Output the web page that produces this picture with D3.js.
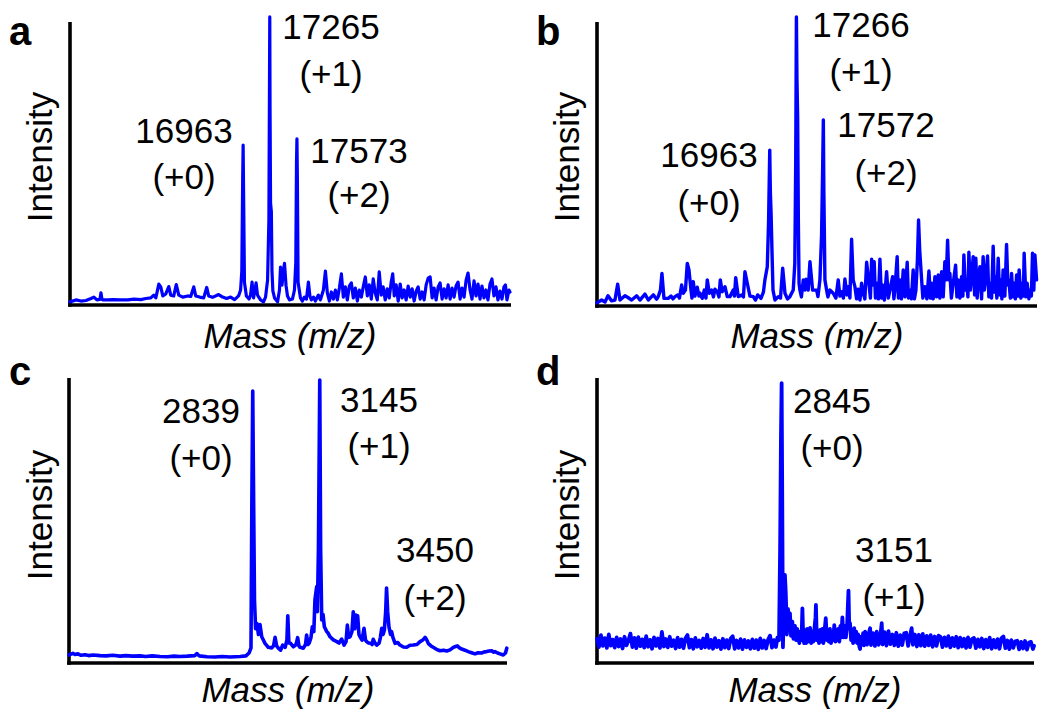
<!DOCTYPE html>
<html><head><meta charset="utf-8">
<script src="https://cdn.jsdelivr.net/npm/d3@7"></script>
<style>
body{margin:0;background:#fff}
text{font-family:"Liberation Sans",Arial,Helvetica,sans-serif;fill:#000}
</style></head>
<body><svg id="chart" width="1050" height="720"></svg>
<script>
// ---------------- DATA ----------------
const panelLetters = ["a", "b", "c", "d"];
const xAxisTitle = "Mass (m/z)";
const yAxisTitle = "Intensity";
const massRangeAB = [15000, 20000];
const massRangeCD = [2000, 4000];
const intensityRange = [0, 100];

const peakNumbersA = ["16963", "17265", "17573"];
const peakChargesA = ["(+0)", "(+1)", "(+2)"];
const peakNumbersB = ["16963", "17266", "17572"];
const peakChargesB = ["(+0)", "(+1)", "(+2)"];
const peakNumbersC = ["2839", "3145", "3450"];
const peakChargesC = ["(+0)", "(+1)", "(+2)"];
const peakNumbersD = ["2845", "3151"];
const peakChargesD = ["(+0)", "(+1)"];

// [mass, relative intensity]
const spectrumA = [[15000,1.1],[15068,1.8],[15124,1.4],[15181,1.6],[15238,2.3],[15271,2.8],[15305,1.8],[15340,2.0],[15351,4.3],[15362,2.0],[15373,1.8],[15430,1.8],[15486,1.9],[15577,1.8],[15656,1.8],[15724,2.1],[15803,1.9],[15860,2.3],[15916,2.5],[15950,3.5],[15973,2.5],[16007,7.4],[16029,6.4],[16052,3.2],[16086,3.9],[16120,6.5],[16142,3.5],[16176,3.2],[16205,7.2],[16233,3.5],[16278,2.8],[16335,3.2],[16369,3.0],[16403,6.4],[16425,3.2],[16470,2.8],[16516,2.5],[16550,6.2],[16572,3.2],[16617,2.7],[16685,3.7],[16730,2.8],[16776,2.3],[16821,2.8],[16866,1.9],[16911,3.2],[16934,5.3],[16948,12],[16958,45],[16963,56.5],[16968,40],[16978,8],[17000,3.2],[17030,2.1],[17047,3.5],[17064,8.1],[17081,2.5],[17110,7.8],[17126,3.5],[17160,1.8],[17194,1.1],[17217,2.8],[17240,8.8],[17255,30],[17262,80],[17265,101.8],[17268,70],[17274,36],[17283,33],[17290,12],[17300,5],[17319,2.5],[17353,1.1],[17375,5.3],[17387,13.4],[17404,7],[17420,12.4],[17432,14.7],[17449,7],[17466,3.2],[17488,1.8],[17522,2.1],[17545,5.3],[17560,15],[17568,50],[17573,58.7],[17578,45],[17586,8],[17613,2.5],[17635,1.4],[17658,2.8],[17681,2.1],[17703,8.1],[17720,3.2],[17737,1.8],[17760,2.8],[17782,1.4],[17816,3.5],[17839,1.8],[17873,5.3],[17896,12.0],[17918,4.2],[17941,1.4],[17963,4.6],[17986,2.1],[18009,5.3],[18031,1.8],[18054,6.0],[18077,11.0],[18099,2.8],[18122,6.4],[18144,1.8],[18167,6.7],[18190,7.8],[18212,2.5],[18235,6.0],[18258,1.4],[18280,5.3],[18303,2.8],[18325,6.4],[18348,9.9],[18371,3.2],[18393,7.1],[18416,2.1],[18438,9.2],[18461,4.2],[18484,1.8],[18506,11.7],[18529,3.5],[18551,6.4],[18574,1.8],[18597,5.7],[18619,2.5],[18642,8.1],[18659,11.0],[18676,3.2],[18698,7.1],[18721,1.4],[18744,7.4],[18766,2.5],[18789,5.3],[18811,1.8],[18834,6.7],[18857,2.8],[18879,5.7],[18902,1.4],[18925,4.9],[18947,6.4],[18970,2.1],[18993,4.6],[19015,1.8],[19038,7.1],[19061,9.5],[19083,9.9],[19106,2.5],[19128,6.0],[19151,1.8],[19174,6.4],[19196,7.8],[19219,2.1],[19242,5.7],[19264,2.5],[19287,7.1],[19310,2.1],[19332,6.0],[19355,2.8],[19377,6.7],[19400,8.1],[19423,2.1],[19445,6.0],[19468,2.8],[19491,8.8],[19513,11.3],[19536,5.3],[19558,2.1],[19581,8.5],[19604,3.2],[19626,7.4],[19649,2.1],[19671,6.7],[19694,2.5],[19716,5.3],[19739,1.8],[19762,7.4],[19784,9.2],[19807,3.2],[19830,6.4],[19852,1.8],[19875,4.9],[19898,2.1],[19920,6.4],[19937,7.1],[19954,1.8],[19977,5.3],[19988,4.6]];

const spectrumB = [[15000,1.1],[15053,2.1],[15091,1.4],[15125,3.6],[15167,1.8],[15204,2.1],[15235,7.7],[15261,2.1],[15318,3.6],[15356,2.9],[15394,2.1],[15451,3.6],[15488,2.1],[15545,4.2],[15583,2.1],[15640,3.9],[15678,2.4],[15696,3.3],[15721,5.6],[15738,11.5],[15761,2.7],[15810,2.7],[15841,3.5],[15863,2.5],[15886,3.3],[15917,3.9],[15937,2.8],[15962,7.4],[15980,4.5],[16005,5.6],[16026,15.0],[16045,12.7],[16068,5.6],[16079,2.8],[16094,8.6],[16113,3.5],[16139,6.6],[16159,3.5],[16170,4.5],[16196,2.7],[16219,5.6],[16238,2.8],[16253,9.2],[16276,4.5],[16303,5.6],[16323,3.2],[16340,5.9],[16367,5.0],[16386,3.2],[16401,9.2],[16423,5.0],[16454,6.8],[16480,3.3],[16511,3.3],[16548,5.6],[16562,3.5],[16576,10.0],[16605,3.3],[16644,3.9],[16664,3.2],[16681,12.1],[16712,7.4],[16738,3.5],[16776,3.3],[16801,2.1],[16826,3.9],[16863,2.7],[16891,4.9],[16908,9.2],[16935,13.8],[16950,30],[16963,54.9],[16970,40],[16978,32.7],[16988,20],[17000,5.6],[17022,2.1],[17060,3.3],[17085,2.8],[17110,13.3],[17136,4.5],[17164,2.5],[17192,3.3],[17230,5.6],[17248,15],[17258,50],[17266,101.8],[17272,80],[17280,66.5],[17288,30],[17296,8],[17306,5.6],[17323,3.2],[17344,9.2],[17363,5.6],[17374,9.4],[17400,5.6],[17420,15.6],[17450,5.6],[17496,5.6],[17511,3.3],[17533,9.2],[17552,25],[17565,50],[17572,65.5],[17578,40],[17590,9.2],[17609,5.6],[17624,3.2],[17647,5.6],[17684,4.5],[17715,2.8],[17741,9.2],[17760,3.5],[17780,5.0],[17800,2.8],[17817,9.5],[17840,3.9],[17855,6.8],[17874,2.8],[17893,23.5],[17911,9.2],[17931,6.8],[17950,2.5],[17968,5.9],[17988,2.1],[18007,8.0],[18025,4.5],[18044,2.5],[18064,15.4],[18090,8.0],[18107,2.8],[18121,16.5],[18135,7.4],[18150,15.6],[18164,2.8],[18177,8.0],[18198,2.5],[18215,16.5],[18232,2.8],[18245,7.4],[18266,2.1],[18291,12.1],[18311,2.8],[18328,5.6],[18359,10.3],[18374,2.5],[18385,5.6],[18411,17.4],[18425,2.8],[18442,9.2],[18459,2.5],[18480,12.7],[18499,3.2],[18525,15.4],[18539,2.8],[18556,5.6],[18573,2.5],[18593,12.7],[18607,2.5],[18624,5.6],[18641,16.2],[18654,30.3],[18667,19.7],[18689,9.2],[18703,2.8],[18726,6.8],[18749,2.5],[18772,12.3],[18789,2.8],[18802,8.0],[18820,2.5],[18840,10.3],[18859,3.2],[18877,10.9],[18896,2.8],[18916,12.1],[18934,3.2],[18953,15.6],[18968,9.2],[18984,23.2],[18999,9.2],[19010,11.5],[19027,2.8],[19048,8.0],[19075,14.4],[19090,3.2],[19104,9.2],[19124,2.8],[19143,10.3],[19158,3.5],[19169,18.0],[19186,5.6],[19200,9.2],[19215,3.2],[19226,18.9],[19243,5.6],[19257,10.3],[19275,17.4],[19291,3.9],[19305,16.8],[19320,2.8],[19331,8.0],[19351,13.8],[19370,2.5],[19388,17.4],[19402,5.6],[19416,9.2],[19438,17.6],[19453,3.2],[19464,8.0],[19484,2.8],[19502,21.1],[19516,4.9],[19529,10.3],[19544,2.8],[19559,16.8],[19575,3.9],[19589,9.2],[19601,2.5],[19615,12.7],[19635,3.5],[19654,21.7],[19669,7.4],[19680,9.2],[19697,2.8],[19711,11.5],[19726,3.2],[19737,8.0],[19754,2.5],[19768,10.9],[19783,3.5],[19797,12.7],[19817,2.8],[19831,8.0],[19845,3.5],[19854,18.6],[19873,3.2],[19888,8.0],[19908,2.5],[19919,5.6],[19936,3.5],[19949,18.6],[19964,5.6],[19976,18.0],[19995,9.2]];

const spectrumC = [[2000,2.8],[2009,3.1],[2018,3.4],[2027,3.0],[2041,3.2],[2055,2.7],[2073,2.9],[2090,2.6],[2110,2.8],[2142,2.6],[2170,2.5],[2200,2.7],[2233,2.4],[2260,2.6],[2290,2.4],[2324,2.5],[2350,2.3],[2380,2.5],[2416,2.3],[2450,2.2],[2480,2.4],[2507,2.3],[2540,2.4],[2575,2.6],[2584,3.3],[2594,2.5],[2630,2.2],[2667,2.1],[2700,2.3],[2735,2.1],[2760,2.2],[2781,2.3],[2808,2.5],[2822,3.5],[2831,5.3],[2835,57],[2839,95.4],[2843,57],[2847,22],[2852,12],[2858,13.9],[2865,10],[2872,13.5],[2880,9.2],[2888,8],[2895,6.9],[2910,5.5],[2926,5.3],[2934,6],[2941,9.0],[2948,6],[2956,5.2],[2966,4.5],[2976,6.3],[2987,5.5],[2995,8],[2999,16.6],[3004,7],[3012,6.9],[3024,5.7],[3037,6.5],[3044,8.9],[3050,6],[3055,5.5],[3070,5.2],[3080,6.5],[3085,9.8],[3091,6.5],[3097,7],[3105,9],[3111,12.7],[3118,11],[3123,22.1],[3131,26.8],[3134,18],[3139,40],[3145,99.3],[3149,40],[3154,15.1],[3160,17],[3166,12.7],[3177,11],[3183,10.5],[3192,9.2],[3207,8.1],[3223,7.5],[3233,7],[3245,8.4],[3256,6.3],[3265,7.5],[3271,13.3],[3277,9],[3283,9.2],[3292,11],[3298,18],[3305,12],[3310,16.8],[3318,16.5],[3324,10],[3329,9.2],[3338,8],[3347,12.2],[3354,8],[3359,7.5],[3368,7],[3378,6.9],[3384,6.5],[3389,8.3],[3397,7],[3405,6.3],[3416,7],[3422,9],[3428,12.2],[3434,10],[3440,11.5],[3446,18],[3450,26.3],[3455,18],[3461,12.7],[3468,10],[3473,11],[3479,9],[3489,6.9],[3501,7.2],[3511,6.3],[3527,5.6],[3542,5.5],[3557,6.2],[3572,6.3],[3589,6.5],[3603,7.5],[3614,8],[3621,8.5],[3626,9],[3633,8.2],[3641,6.8],[3653,6],[3663,5.5],[3678,4.8],[3694,4.3],[3710,4.5],[3725,4.2],[3740,4.6],[3755,5.5],[3765,5.8],[3773,6.0],[3783,5.3],[3793,4.9],[3808,4.5],[3823,4.0],[3838,3.6],[3854,3.2],[3868,3.6],[3884,3.5],[3897,3.9],[3907,4.0],[3918,4.2],[3930,4.3],[3938,3.8],[3945,4.0],[3957,3.5],[3968,3.2],[3983,2.8],[3993,3.5],[3999,5.2]];

const spectrumD = [[2000,8.5],[2009,5.6],[2018,9.8],[2027,6.0],[2036,8.7],[2045,5.3],[2054,10.0],[2063,6.1],[2072,8.2],[2081,5.4],[2090,9.0],[2099,5.8],[2108,8.4],[2117,5.1],[2126,9.2],[2135,6.2],[2144,8.0],[2153,10.3],[2162,5.6],[2171,8.8],[2180,5.2],[2189,9.1],[2198,5.9],[2207,8.3],[2216,5.4],[2225,9.4],[2234,5.7],[2243,8.1],[2252,5.0],[2261,9.0],[2270,6.0],[2279,8.6],[2288,5.3],[2297,10.9],[2306,5.8],[2315,8.4],[2324,5.5],[2333,9.2],[2342,5.9],[2351,8.0],[2360,5.1],[2369,8.9],[2378,5.6],[2387,8.3],[2396,5.2],[2405,8.7],[2414,9.8],[2423,5.4],[2432,8.2],[2441,5.0],[2450,8.8],[2459,5.7],[2468,7.9],[2477,5.2],[2486,8.6],[2495,5.5],[2504,9.9],[2513,5.3],[2522,8.1],[2531,5.0],[2540,8.7],[2549,5.6],[2558,7.8],[2567,4.9],[2576,8.5],[2585,5.4],[2594,8.0],[2603,5.1],[2612,8.6],[2621,9.4],[2630,5.0],[2639,7.9],[2648,5.3],[2657,8.4],[2666,4.9],[2675,8.1],[2684,5.5],[2693,7.7],[2702,5.0],[2711,8.3],[2720,5.2],[2729,8.0],[2738,4.8],[2747,8.6],[2756,5.3],[2765,7.9],[2774,5.1],[2783,8.2],[2792,9.6],[2801,5.4],[2810,8.0],[2819,5.6],[2826,9.0],[2833,8.0],[2838,40],[2842,80],[2845,98.2],[2848,55],[2851,5.5],[2855,20],[2860,30.9],[2864,24.5],[2869,10],[2874,19],[2878,15.5],[2883,17.4],[2888,9.5],[2894,14.5],[2899,8.5],[2906,13],[2911,8],[2916,12],[2921,9.5],[2926,7.0],[2931,11],[2936,8],[2940,19.2],[2944,8.5],[2948,7],[2952,11.5],[2957,7.0],[2962,12],[2966,7.5],[2971,10.5],[2975,12.3],[2980,7],[2985,11],[2990,7.5],[2995,12],[3000,16],[3002,20.4],[3006,8],[3011,11],[3016,7],[3021,11.6],[3026,7.5],[3031,12],[3036,7],[3041,11],[3047,15.7],[3052,8],[3057,11.5],[3061,7.5],[3066,12],[3071,7],[3076,10.5],[3081,8],[3086,13.3],[3091,7.5],[3095,11],[3100,8],[3104,12],[3109,7.5],[3114,13],[3118,9],[3123,16],[3128,9],[3134,13],[3139,9],[3145,14],[3148,20],[3151,25.4],[3154,14],[3158,13.9],[3163,8],[3168,11],[3172,7],[3177,12.2],[3181,7.5],[3186,11],[3191,7],[3195,10],[3200,6],[3204,4.9],[3209,9.2],[3213,6.5],[3218,10.5],[3222,6.2],[3227,11],[3231,6.8],[3236,6.5],[3245,10.8],[3250,12.2],[3254,6.3],[3263,10.5],[3272,6.0],[3280,11.0],[3289,6.4],[3298,10.2],[3303,14.0],[3307,6.5],[3316,10.8],[3325,6.1],[3334,11.2],[3343,6.6],[3352,10.0],[3361,6.2],[3370,10.6],[3379,5.9],[3388,9.8],[3397,6.3],[3406,10.4],[3415,10.6],[3424,6.0],[3433,9.7],[3440,12.2],[3446,6.4],[3455,10.0],[3464,5.8],[3473,9.9],[3482,6.1],[3491,10.2],[3500,5.9],[3509,9.5],[3518,6.2],[3527,9.8],[3536,5.7],[3545,9.3],[3554,6.0],[3563,9.6],[3572,9.2],[3581,5.6],[3590,9.0],[3599,6.0],[3608,9.4],[3617,5.5],[3626,8.8],[3635,5.9],[3644,9.2],[3653,5.4],[3662,8.9],[3671,5.8],[3680,8.5],[3689,5.3],[3698,9.0],[3707,5.6],[3716,8.4],[3725,8.8],[3734,5.2],[3743,8.3],[3752,5.7],[3761,8.6],[3770,5.1],[3779,8.2],[3788,5.5],[3797,8.9],[3806,5.0],[3815,8.1],[3824,5.4],[3833,8.4],[3842,5.0],[3851,8.7],[3860,9.3],[3869,5.2],[3878,7.9],[3887,4.9],[3896,8.0],[3905,5.3],[3914,7.6],[3923,7.8],[3932,4.8],[3941,7.4],[3950,5.1],[3959,7.7],[3968,4.7],[3977,7.2],[3986,7.4],[3995,4.9],[4000,6.0]];

// ---------------- LAYOUT ----------------
const layout = [
  {box:{left:70, right:511, top:22, bottom:305}, letter:[9,45], ylab:[52,157], xlab:[290,348], lineW:3.2,
   labels:[[184,143,189],[331,39,86],[359,163,207]]},
  {box:{left:597, right:1037, top:22, bottom:306}, letter:[536,45], ylab:[579,157], xlab:[817,348], lineW:3.4,
   labels:[[709,167,215],[861,37,84],[886,137,185]]},
  {box:{left:69, right:507, top:378, bottom:663}, letter:[9,385], ylab:[52,515], xlab:[288,702], lineW:3.6,
   labels:[[201,423,470],[379,412,458],[435,562,610]]},
  {box:{left:597, right:1034, top:378, bottom:663}, letter:[536,385], ylab:[579,515], xlab:[815,702], lineW:3.8,
   labels:[[832,413,460],[894,562,609]]}
];

const panels = [
  {spectrum: spectrumA, mass: massRangeAB, nums: peakNumbersA, charges: peakChargesA},
  {spectrum: spectrumB, mass: massRangeAB, nums: peakNumbersB, charges: peakChargesB},
  {spectrum: spectrumC, mass: massRangeCD, nums: peakNumbersC, charges: peakChargesC},
  {spectrum: spectrumD, mass: massRangeCD, nums: peakNumbersD, charges: peakChargesD}
];

const svg = d3.select("#chart");
svg.append("rect").attr("width",1050).attr("height",720).attr("fill","#fff");

panels.forEach((p, i) => {
  const L = layout[i], b = L.box;
  const x = d3.scaleLinear().domain(p.mass).range([b.left, b.right]);
  const y = d3.scaleLinear().domain(intensityRange).range([b.bottom, b.top]);
  const g = svg.append("g");

  // axes (no ticks)
  const xAxis = d3.axisBottom(x).tickValues([]).tickSizeOuter(0);
  const yAxis = d3.axisLeft(y).tickValues([]).tickSizeOuter(0);
  g.append("g").attr("transform", `translate(0,${b.bottom})`).call(xAxis)
    .select(".domain").attr("stroke","#000").attr("stroke-width",3.6).attr("d", `M${b.left-1.8},0H${b.right}`);
  g.append("g").attr("transform", `translate(${b.left},0)`).call(yAxis)
    .select(".domain").attr("stroke","#000").attr("stroke-width",3.6).attr("d", `M0,${b.top}V${b.bottom+1.8}`);

  // spectrum
  const line = d3.line().x(d => x(d[0])).y(d => y(d[1]));
  g.append("path").datum(p.spectrum).attr("d", line)
    .attr("fill","none").attr("stroke","#0000ff").attr("stroke-width",L.lineW)
    .attr("stroke-linejoin","round").attr("stroke-linecap","round");

  // panel letter
  g.append("text").attr("x", L.letter[0]).attr("y", L.letter[1])
    .attr("font-size", 40).attr("font-weight","bold").text(panelLetters[i]);
  // axis titles
  g.append("text").attr("transform", `translate(${L.ylab[0]},${L.ylab[1]}) rotate(-90)`)
    .attr("text-anchor","middle").attr("font-size",35).text(yAxisTitle);
  g.append("text").attr("x", L.xlab[0]).attr("y", L.xlab[1]).attr("text-anchor","middle")
    .attr("font-size",35).attr("font-style","italic").text(xAxisTitle);

  // peak labels
  p.nums.forEach((n, k) => {
    const pos = L.labels[k];
    g.append("text").attr("x",pos[0]).attr("y",pos[1]).attr("text-anchor","middle").attr("font-size",35).text(n);
    g.append("text").attr("x",pos[0]).attr("y",pos[2]).attr("text-anchor","middle").attr("font-size",35).text(p.charges[k]);
  });
});
</script>
</body></html>
